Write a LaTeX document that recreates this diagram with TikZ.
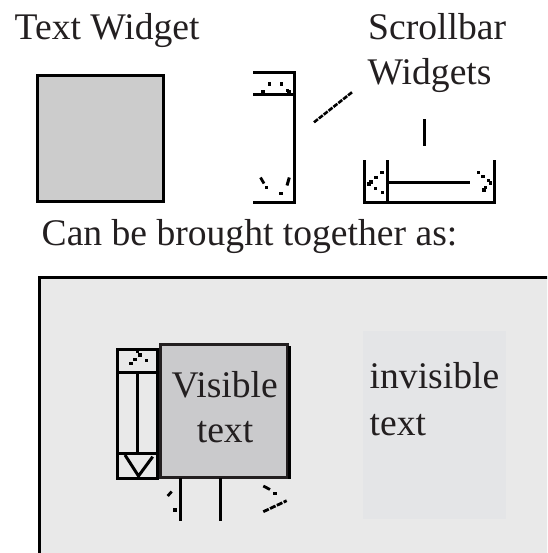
\documentclass[tikz,border=0pt]{standalone}
\usepackage{fontspec}
\setmainfont{Liberation Serif}
\definecolor{ink}{HTML}{231F20}
\definecolor{widgetgray}{HTML}{CCCCCC}
\definecolor{panel}{HTML}{E9E9E9}
\definecolor{hidden}{HTML}{E4E5E7}
\definecolor{visgray}{HTML}{CACACC}
\tikzset{
  caption/.style={font=\fontsize{37.6}{44}\selectfont, text=ink, inner sep=0pt},
  bar/.style={line width=3pt, line cap=rect},
}
% one pixel-like dot of the jagged arrow glyphs
\newcommand\jdot[1]{\fill[shift={#1}] (-1.6,-1.6) rectangle (1.6,1.6);}
\begin{document}
\begin{tikzpicture}[x=1pt,y=-1pt]
\useasboundingbox (0,0) rectangle (547,553);
\clip (0,0) rectangle (547,553);

% ---- captions of the top row
\node[caption, anchor=base west] (tw) at (14.5,40) {Text Widget};
\node[caption, anchor=base west] (sb1) at (368,40) {Scrollbar};
\node[caption, anchor=base west] (sb2) at (367.5,85) {Widgets};

% ---- the bare text widget
\draw[line width=3.4pt, fill=widgetgray] (37.5,75.8) rectangle (163.3,201.7);

% ---- bare vertical scrollbar
\draw[bar] (254,72.2) -- (294.7,72.2) -- (294.7,202.2) -- (254,202.2);
\draw[bar] (254,94.5) -- (294.7,94.5);
\foreach \p in {(263,91.5),(269.3,84),(281.7,84),(287.5,90.5),(289,92)} {\jdot{\p}}
\draw[line width=2.8pt] (260.5,177.5) -- (264,183.5);
\jdot{(266.7,187.3)}
\jdot{(281,193.3)}
\draw[line width=3pt] (289.3,177.5) -- (287,185.5);

% pointer from the caption towards the vertical scrollbar
\draw[line width=2.6pt, dash pattern=on 5pt off 1.2pt] (314,122.3) -- (352.7,91.7);

% ---- bare horizontal scrollbar
\draw[bar] (424.3,121) -- (424.3,144.5);
\draw[bar] (364.7,161.5) -- (364.7,202.5) -- (494,202.5) -- (494,161.5);
\draw[bar] (387.3,161.5) -- (387.3,202.5);
\draw[bar] (387.3,182.2) -- (468.3,182.2);
\foreach \p in {(382,172.5),(376,177.5),(371,182),(369,184),(375.5,188.5),(382.5,192.5)} {\jdot{\p}}
\foreach \p in {(478.3,172.7),(483,176.7),(488.5,180.5),(490.5,183),(485.5,187.5),(484,190)} {\jdot{\p}}

% ---- caption of the combined view
\node[caption, anchor=base west] (cb) at (41.5,245) {Can be brought together as:};

% ---- combined view: the window
\draw[line width=3.4pt, fill=panel] (39.5,277.5) rectangle (600,600);
\fill[hidden] (363,331) rectangle (506,519);
\node[caption, anchor=base west] (inv1) at (369.5,388) {invisible};
\node[caption, anchor=base west] (inv2) at (369.5,435) {text};

% vertical scrollbar beside the text
\draw[bar, fill=panel] (117.5,349.2) rectangle (157.5,478.3);
\draw[bar] (117.5,372) -- (157.5,372);
\draw[bar] (117.5,453) -- (157.5,453);
\draw[bar] (137.2,372) -- (137.2,453);
\foreach \p in {(137.7,351.7),(140,355),(146.7,360.7),(131,363.3),(135,359.3)} {\jdot{\p}}
\draw[line width=3pt] (125,455) -- (138.5,476) -- (152.7,456.7);

% the visible part of the text
\draw[line width=3.8pt, draw=ink, fill=visgray] (160.5,344.5) rectangle (287.5,477.5);
\draw[line width=3.4pt] (289.5,346) -- (289.5,479);
\node[caption, anchor=base] (vis1) at (224.7,397) {Visible};
\node[caption, anchor=base] (vis2) at (225,442) {text};

% horizontal scrollbar below the text
\draw[bar] (180.5,479) -- (180.5,519);
\draw[bar] (220.5,479) -- (220.5,519);
\draw[line width=2.8pt] (167.7,496) -- (171.7,491.5);
\jdot{(175,510)}
\draw[line width=2.8pt] (263.3,486) -- (270,489.5);
\jdot{(275,493.3)}
\draw[line width=2.8pt, dash pattern=on 6pt off 1.5pt] (263.3,511.7) -- (286.7,500.7);
\end{tikzpicture}
\end{document}
